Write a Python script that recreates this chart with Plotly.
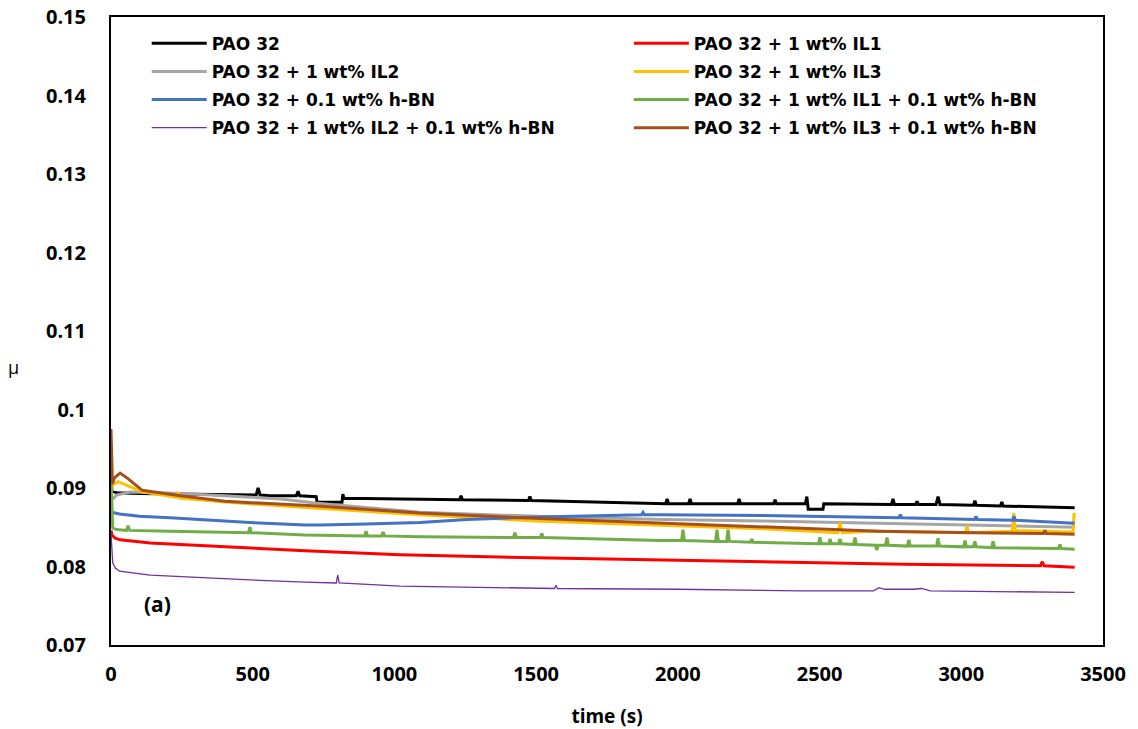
import plotly.graph_objects as go

# ---- data: (time s, friction coefficient) ----
pao32 = [(0, 0.0905), (4, 0.0896), (20, 0.0894), (100, 0.0893), (300, 0.0892), (512, 0.0891), (519, 0.0900),
         (526, 0.0891), (560, 0.0890), (654, 0.0890), (660, 0.0896), (666, 0.0890), (724, 0.0889), (727, 0.0882),
         (815, 0.0882), (818, 0.0892), (822, 0.0887), (1000, 0.0886), (1230, 0.0885), (1235, 0.0890),
         (1240, 0.0885), (1473, 0.0884), (1478, 0.0889), (1483, 0.0884), (1732, 0.0882), (1785, 0.0881),
         (1957, 0.0880), (1962, 0.0886), (1967, 0.0880), (2038, 0.0880), (2043, 0.0886), (2048, 0.0880),
         (2211, 0.0880), (2216, 0.0886), (2221, 0.0880), (2338, 0.0880), (2343, 0.0885), (2348, 0.0880),
         (2450, 0.0880), (2455, 0.0889), (2460, 0.0873), (2512, 0.0873), (2515, 0.0880), (2754, 0.0879),
         (2759, 0.0886), (2764, 0.0879), (2839, 0.0879), (2844, 0.0883), (2849, 0.0879), (2911, 0.0879),
         (2918, 0.0889), (2925, 0.0879), (3043, 0.0878), (3048, 0.0884), (3053, 0.0878), (3138, 0.0877),
         (3143, 0.0882), (3148, 0.0877), (3400, 0.0875)]

il1 = [(0, 0.0846), (3, 0.0840), (15, 0.0836), (32, 0.0834), (138, 0.0830), (300, 0.0827), (490, 0.0824),
       (684, 0.0820), (1020, 0.0815), (1500, 0.0811), (2000, 0.0808), (2431, 0.0805), (2800, 0.0803),
       (3280, 0.0801), (3285, 0.0806), (3292, 0.0801), (3400, 0.0799)]

il2 = [(0, 0.0884), (20, 0.0891), (67, 0.0895), (150, 0.0894), (245, 0.0893), (400, 0.0890), (600, 0.0886),
       (720, 0.0881), (1090, 0.0869), (1500, 0.0864), (1950, 0.0860), (2300, 0.0858), (2713, 0.0855),
       (3050, 0.0852), (3400, 0.0850)]

il3 = [(0, 0.0890), (5, 0.0904), (25, 0.0908), (110, 0.0895), (230, 0.0888), (236, 0.0895), (242, 0.0887),
       (402, 0.0882), (700, 0.0875), (1090, 0.0866), (1500, 0.0858), (1950, 0.0852), (2300, 0.0848),
       (2565, 0.0843), (2572, 0.0856), (2580, 0.0843), (2678, 0.0845), (3015, 0.0843), (3020, 0.0852),
       (3025, 0.0843), (3180, 0.0845), (3185, 0.0868), (3190, 0.0846), (3394, 0.0844), (3398, 0.0868),
       (3400, 0.0866)]

hbn = [(0, 0.0878), (3, 0.0869), (30, 0.0867), (100, 0.0864), (208, 0.0862), (490, 0.0856), (684, 0.0853),
       (737, 0.0853), (900, 0.0854), (1090, 0.0856), (1256, 0.0860), (1513, 0.0863), (1872, 0.0866),
       (1877, 0.0869), (1882, 0.0866), (1937, 0.0866), (2300, 0.0865), (2713, 0.0863), (2780, 0.0862),
       (2785, 0.0866), (2790, 0.0862), (3047, 0.0860), (3052, 0.0864), (3057, 0.0860), (3181, 0.0859),
       (3186, 0.0864), (3191, 0.0859), (3400, 0.0855)]

il1_hbn = [(0, 0.0912), (2, 0.0880), (6, 0.0849), (20, 0.0847), (55, 0.0846), (60, 0.0852), (66, 0.0846),
           (208, 0.0845), (485, 0.0843), (490, 0.0850), (495, 0.0843), (684, 0.0840), (895, 0.0839),
           (900, 0.0845), (905, 0.0839), (955, 0.0839), (960, 0.0844), (965, 0.0839), (1090, 0.0838),
           (1420, 0.0837), (1425, 0.0843), (1430, 0.0837), (1515, 0.0837), (1520, 0.0842), (1525, 0.0837),
           (1937, 0.0833), (2013, 0.0833), (2018, 0.0847), (2023, 0.0833), (2133, 0.0832), (2138, 0.0847),
           (2143, 0.0832), (2172, 0.0832), (2177, 0.0847), (2182, 0.0832), (2256, 0.0831), (2261, 0.0835),
           (2266, 0.0831), (2496, 0.0829), (2501, 0.0837), (2506, 0.0829), (2532, 0.0829), (2537, 0.0835),
           (2542, 0.0829), (2567, 0.0829), (2572, 0.0835), (2577, 0.0829), (2620, 0.0828), (2625, 0.0837),
           (2630, 0.0828), (2697, 0.0827), (2702, 0.0821), (2707, 0.0827), (2733, 0.0827), (2738, 0.0837),
           (2743, 0.0827), (2810, 0.0826), (2815, 0.0834), (2820, 0.0826), (2913, 0.0826), (2918, 0.0836),
           (2923, 0.0826), (3008, 0.0825), (3013, 0.0833), (3018, 0.0825), (3043, 0.0825), (3048, 0.0832),
           (3053, 0.0825), (3107, 0.0824), (3112, 0.0832), (3117, 0.0824), (3343, 0.0823), (3348, 0.0828),
           (3353, 0.0823), (3400, 0.0822)]

il2_hbn = [(0, 0.0842), (2, 0.0820), (6, 0.0805), (15, 0.0798), (30, 0.0794), (138, 0.0789), (300, 0.0786),
           (490, 0.0783), (684, 0.0780), (795, 0.0779), (800, 0.0789), (805, 0.0779), (1020, 0.0775),
           (1565, 0.0772), (1570, 0.0776), (1575, 0.0772), (2000, 0.0771), (2431, 0.0769), (2690, 0.0769),
           (2710, 0.0773), (2730, 0.0771), (2830, 0.0771), (2860, 0.0772), (2890, 0.0769), (3400, 0.0767)]

il3_hbn = [(0, 0.0975), (2, 0.0930), (5, 0.0905), (12, 0.0913), (32, 0.0919), (60, 0.0912), (110, 0.0897),
           (245, 0.0890), (402, 0.0883), (730, 0.0877), (1090, 0.0868), (1513, 0.0861), (1950, 0.0855),
           (2300, 0.0850), (2713, 0.0845), (3050, 0.0843), (3290, 0.0842), (3295, 0.0846), (3300, 0.0842),
           (3400, 0.0841)]

series_names = ["PAO 32", "PAO 32 + 1 wt% IL1", "PAO 32 + 1 wt% IL2", "PAO 32 + 1 wt% IL3",
                "PAO 32 + 0.1 wt% h-BN", "PAO 32 + 1 wt% IL1 + 0.1 wt% h-BN",
                "PAO 32 + 1 wt% IL2 + 0.1 wt% h-BN", "PAO 32 + 1 wt% IL3 + 0.1 wt% h-BN"]
series_data = [pao32, il1, il2, il3, hbn, il1_hbn, il2_hbn, il3_hbn]
series_colors = ["#000000", "#FF0000", "#A5A5A5", "#FFC000", "#4472C4", "#70AD47", "#7030A0", "#A5501C"]
series_widths = [3, 3, 3, 3, 3, 3, 1.3, 3]
series_legend = ["legend", "legend2", "legend", "legend2", "legend", "legend2", "legend", "legend2"]

y_ticks = [0.07, 0.08, 0.09, 0.10, 0.11, 0.12, 0.13, 0.14, 0.15]
y_labels = ["0.07", "0.08", "0.09", "0.1", "0.11", "0.12", "0.13", "0.14", "0.15"]
x_ticks = [0, 500, 1000, 1500, 2000, 2500, 3000, 3500]
x_labels = ["0", "500", "1000", "1500", "2000", "2500", "3000", "3500"]

FONT = "Open Sans"
LEGEND_FONT = "DejaVu Sans"

fig = go.Figure()
for i, (name, data, col, w, lg) in enumerate(zip(series_names, series_data, series_colors,
                                                 series_widths, series_legend)):
    fig.add_trace(go.Scatter(
        x=[p[0] for p in data], y=[p[1] for p in data], mode="lines", name=name,
        line=dict(color=col, width=w), legend=lg, legendgroup=f"g{i}"))

legend_common = dict(yanchor="top", xanchor="left", bgcolor="rgba(0,0,0,0)",
                     font=dict(family=LEGEND_FONT, size=17, color="#000000", weight="bold"),
                     itemwidth=55, tracegroupgap=3, traceorder="grouped")

fig.update_layout(
    width=1138, height=729,
    margin=dict(l=111, r=35, t=17, b=84),
    paper_bgcolor="white", plot_bgcolor="white",
    font=dict(family=FONT, color="#000000"),
    showlegend=True,
    legend=dict(x=0.036, y=0.986, **legend_common),
    legend2=dict(x=0.522, y=0.986, **legend_common),
    xaxis=dict(range=[0, 3500], tickvals=x_ticks, ticktext=x_labels, showgrid=False, zeroline=False,
               showline=True, linecolor="#000000", linewidth=2, mirror=True, ticks="",
               ticklabelstandoff=10, automargin=False,
               tickfont=dict(family=FONT, size=20, weight="bold"),
               title=dict(text="time (s)", font=dict(family=FONT, size=19, weight="bold"), standoff=26)),
    yaxis=dict(range=[0.07, 0.15], tickvals=y_ticks, ticktext=y_labels, showgrid=False, zeroline=False,
               showline=True, linecolor="#000000", linewidth=2, mirror=True, ticks="",
               ticklabelstandoff=19, automargin=False,
               tickfont=dict(family=FONT, size=20, weight="bold")),
    annotations=[
        dict(x=111, y=0.0752, xref="x", yref="y", text="(a)", showarrow=False,
             font=dict(family=FONT, size=21, weight="bold"), xanchor="left"),
        dict(x=-0.0978, y=0.4427, xref="paper", yref="paper", text="μ", showarrow=False,
             font=dict(family=FONT, size=18), xanchor="center", yanchor="middle"),
    ],
)

fig.write_html("out.html", post_script="document.body.style.margin='0';",
               config={"displayModeBar": False})
